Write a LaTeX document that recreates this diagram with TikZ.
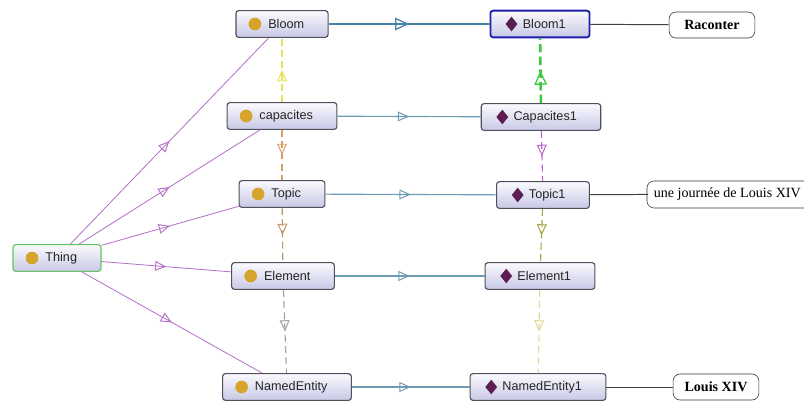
\documentclass[tikz,border=0pt]{standalone}
\usepackage{fontspec}
\setmainfont{Liberation Sans}
\newfontfamily\notefont{Liberation Serif}
\usepackage{xcolor}
\usetikzlibrary{arrows.meta,decorations.markings}

\definecolor{clsgold}{RGB}{214,164,42}
\definecolor{indpurple}{RGB}{92,30,80}
\definecolor{boxtop}{RGB}{250,250,254}
\definecolor{boxbot}{RGB}{200,200,230}
\definecolor{boxline}{RGB}{80,80,90}
\definecolor{thingline}{RGB}{100,195,100}
\definecolor{selline}{RGB}{30,30,170}
\definecolor{subline}{RGB}{180,115,198}
\definecolor{typeline}{RGB}{110,155,180}
\definecolor{typethick}{RGB}{70,130,165}

\tikzset{
  box/.style={draw=boxline, line width=0.8pt, rounded corners=2pt,
    top color=boxtop, bottom color=boxbot, minimum height=19pt,
    inner xsep=17pt, inner ysep=2pt, text=black!85,
    font=\fontsize{9}{10}\selectfont},
  cls/.style={box, path picture={\fill[clsgold]
    ([xshift=13.5pt]path picture bounding box.west) circle (4.5pt);}},
  ind/.style={box, path picture={\fill[indpurple, sharp corners]
    ([xshift=15pt]path picture bounding box.west) +(0,5.2pt) -- +(4.2pt,0)
    -- +(0,-5.2pt) -- +(-4.2pt,0) -- cycle;}},
  note/.style={draw=black!80, rounded corners=5pt, minimum height=18.5pt,
    font=\notefont\fontsize{10}{12}\selectfont},
  isa/.style={postaction={decorate}, decoration={markings,
    mark=at position 0.5 with {\arrow[solid, fill=white]{Triangle[open, length=8pt, width=7pt, line width=0.7pt]}}}},
  bigisa/.style={postaction={decorate}, decoration={markings,
    mark=at position 0.5 with {\arrow[solid, fill=white]{Triangle[open, length=10pt, width=9pt, line width=0.9pt]}}}},
  subof/.style={isa, draw=subline, line width=0.6pt},
  typeof/.style={isa, draw=typeline, line width=0.8pt},
  vdash/.style={isa, line width=0.8pt, dash pattern=on 5pt off 3pt},
  link/.style={draw=black!75, line width=0.7pt}
}

\begin{document}
\begin{tikzpicture}[x=0.025cm, y=-0.025cm]
\useasboundingbox (0,0) rectangle (804,401);
\clip (0,0) rectangle (804,401);

% classes
\node[cls, draw=thingline] (thing) at (57,258) {\hspace*{6pt}Thing};
\node[cls] (bloom) at (282,24) {\hspace*{6pt}Bloom};
\node[cls] (capacites) at (282,116) {\hspace*{6pt}capacites};
\node[cls] (topic) at (282,194) {\hspace*{6pt}Topic};
\node[cls] (element) at (283,276) {\hspace*{6pt}Element};
\node[cls] (namedentity) at (287,387) {\hspace*{6pt}NamedEntity};

% individuals
\node[ind, draw=selline, line width=1.3pt] (bloom1) at (540,24) {\hspace*{6pt}Bloom1};
\node[ind] (capacites1) at (541,117) {\hspace*{6pt}Capacites1};
\node[ind] (topic1) at (543,195) {\hspace*{6pt}Topic1};
\node[ind] (element1) at (540,276) {\hspace*{6pt}Element1};
\node[ind] (namedentity1) at (538,387) {\hspace*{6pt}NamedEntity1};

% values
\node[note, minimum width=61pt] (raconter) at (712,25) {\bfseries Raconter};
\node[note, draw=none, anchor=west, inner xsep=4pt] (journee) at (648,194) {une journée de Louis XIV};
\draw[black!80, line width=0.4pt, rounded corners=5pt] (830,181) -- (647,181) -- (647,208) -- (830,208);
\node[note, minimum width=61pt] (louis) at (716,387) {\bfseries Louis XIV};

% subclasses of Thing
\draw[subof] (thing) -- (bloom);
\draw[subof] (thing) -- (capacites);
\draw[subof] (thing) -- (topic);
\draw[subof] (thing) -- (element);
\draw[subof] (thing) -- (namedentity);

% class to individual
\draw[bigisa, draw=typethick, line width=1.8pt] (bloom) -- (bloom1);
\draw[typeof] (capacites) -- (capacites1);
\draw[typeof] (topic) -- (topic1);
\draw[typeof] (element) -- (element1);
\draw[typeof] (namedentity) -- (namedentity1);

% class column
\draw[vdash, draw={rgb,255:red,232;green,226;blue,80}] (capacites) -- (bloom);
\draw[vdash, draw={rgb,255:red,214;green,160;blue,100}] (capacites) -- (topic);
\draw[vdash, draw={rgb,255:red,190;green,150;blue,100}] (topic) -- (element);
\draw[vdash, draw={rgb,255:red,160;green,160;blue,160}] (element) -- (namedentity);

% individual column
\draw[bigisa, line width=1.8pt, dash pattern=on 6pt off 3pt, draw={rgb,255:red,60;green,200;blue,60}] (capacites1) -- (bloom1);
\draw[vdash, draw={rgb,255:red,185;green,100;blue,200}] (capacites1) -- (topic1);
\draw[vdash, draw={rgb,255:red,170;green,160;blue,70}] (topic1) -- (element1);
\draw[vdash, draw={rgb,255:red,225;green,215;blue,150}] (element1) -- (namedentity1);

% values
\draw[link] (bloom1) -- (raconter);
\draw[link] (topic1) -- (journee);
\draw[link] (namedentity1) -- (louis);
\end{tikzpicture}
\end{document}
